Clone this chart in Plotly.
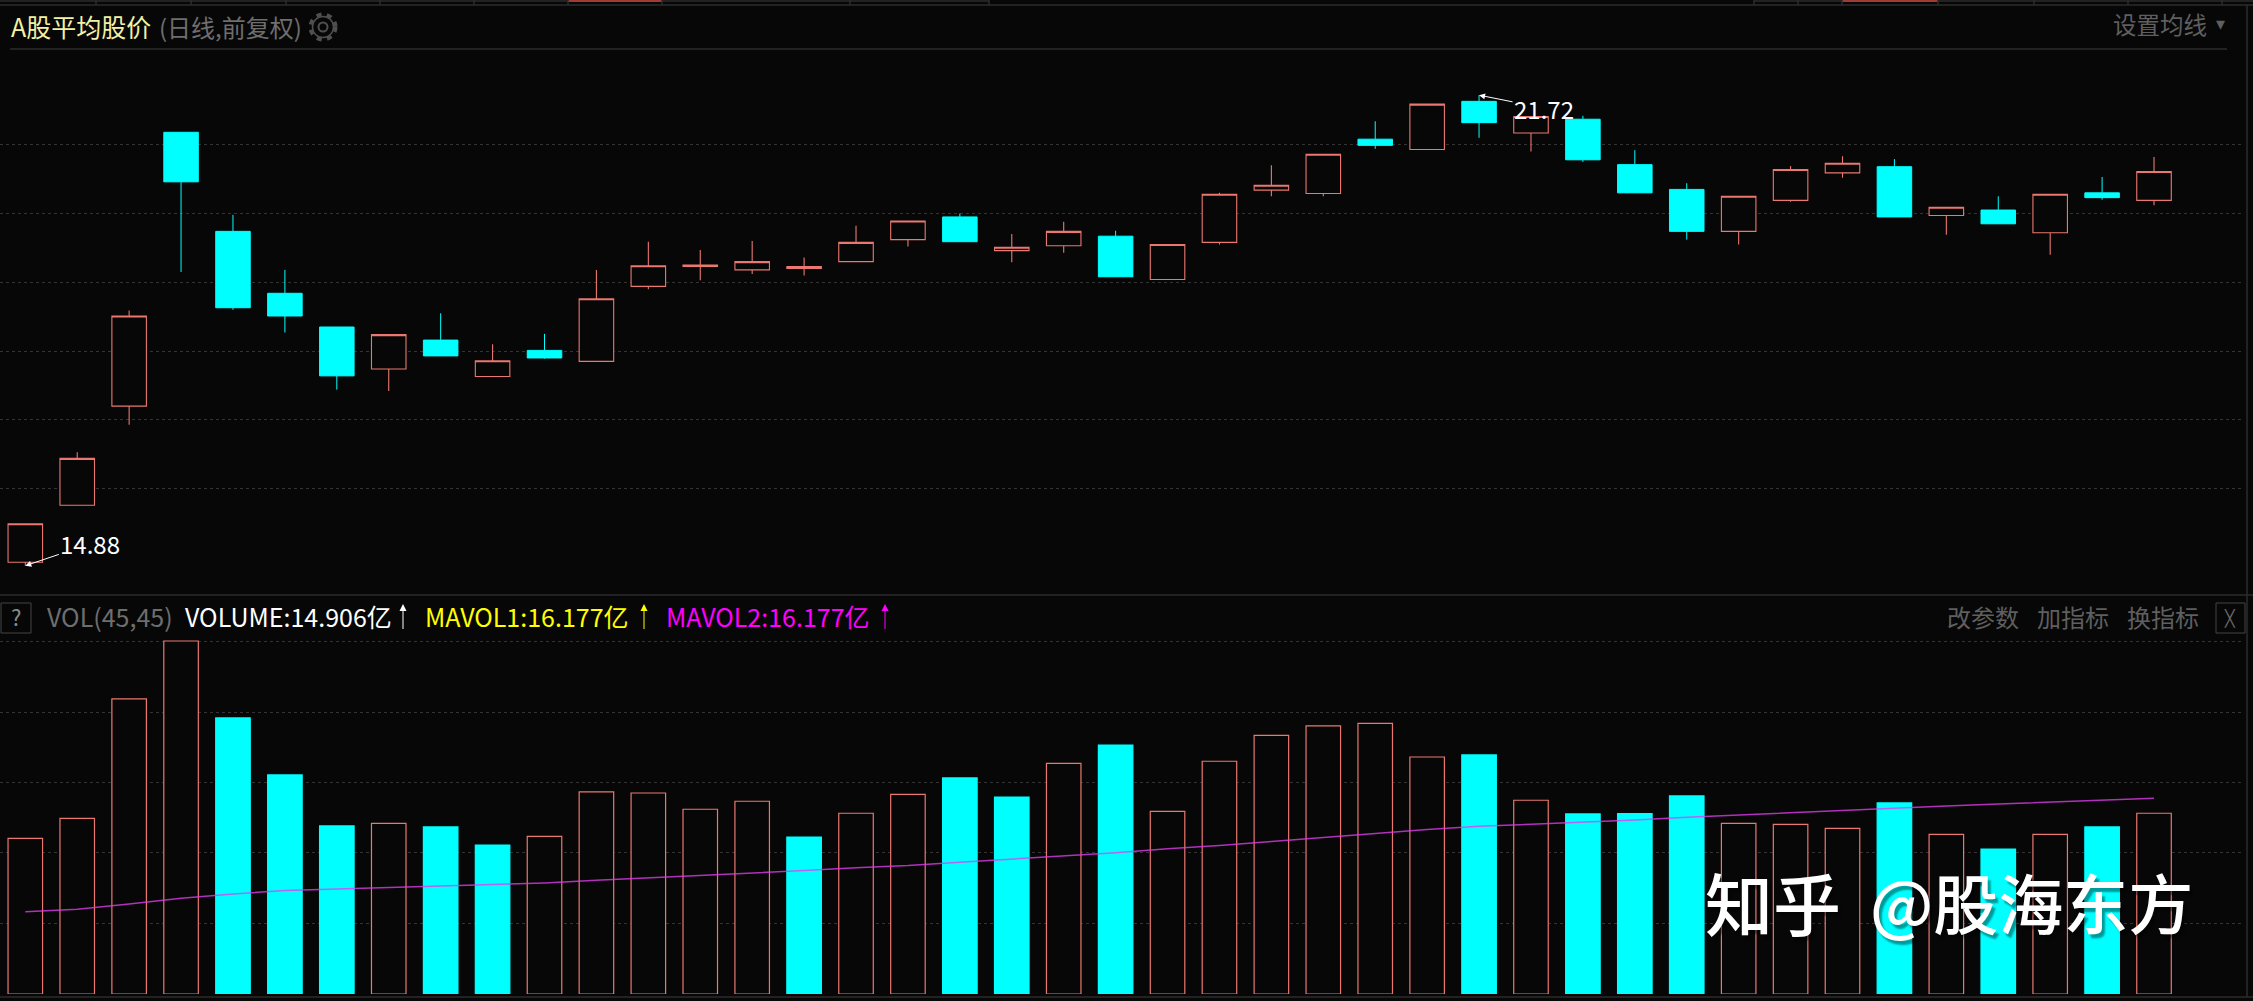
import plotly.graph_objects as go

W, H = 2253, 1001
BG = "#070707"
RED = "#ea7870"
CYAN = "#00ffff"

days = list(range(42))
opens = [14.93,15.76,17.20,21.18,19.74,18.84,18.35,17.74,18.16,17.63,18.01,17.85,18.94,19.23,19.18,19.20,19.30,19.62,19.95,19.46,19.53,19.67,19.04,19.58,20.34,20.29,21.08,20.93,21.63,21.17,21.37,20.71,20.35,19.74,20.19,20.59,20.68,19.97,20.05,19.72,20.30,20.19]
highs = [15.49,16.53,18.59,21.18,19.98,19.18,18.35,18.24,18.55,18.10,18.25,19.18,19.59,19.47,19.60,19.36,19.82,19.89,20.00,19.70,19.88,19.75,19.55,20.30,20.70,20.86,21.34,21.59,21.72,21.41,21.42,20.92,20.44,20.25,20.69,20.83,20.79,20.09,20.25,20.28,20.53,20.82]
lows = [14.88,15.76,16.93,19.15,18.60,18.27,17.44,17.42,17.93,17.63,17.89,17.85,18.90,19.03,19.12,19.10,19.30,19.52,19.59,19.29,19.43,19.08,19.04,19.55,20.25,20.25,20.94,20.93,21.10,20.90,20.75,20.30,19.62,19.55,20.17,20.52,19.95,19.69,19.85,19.40,20.20,20.12]
closes = [15.49,16.44,18.51,20.46,18.63,18.51,17.64,18.24,17.93,17.86,17.90,18.76,19.24,19.25,19.30,19.23,19.58,19.89,19.59,19.51,19.74,19.08,19.55,20.28,20.41,20.86,20.99,21.59,21.32,21.41,20.78,20.30,19.74,20.25,20.64,20.73,19.95,20.09,19.85,20.28,20.23,20.61]

volumes = [12.84,14.49,24.34,29.12,22.77,18.07,13.86,14.08,13.78,12.29,13.01,16.67,16.58,15.24,15.90,12.95,14.91,16.47,17.82,16.25,19.03,20.54,15.07,19.20,21.34,22.11,22.33,19.55,19.72,15.98,14.85,14.88,16.34,14.08,14.00,13.67,15.76,13.17,11.96,13.17,13.78,14.91]
volume_falling = [4,5,6,8,9,15,18,19,21,28,30,31,32,36,38,40]
mavol = [6.79,6.99,7.43,7.89,8.25,8.53,8.66,8.80,8.94,9.02,9.16,9.38,9.57,9.74,9.96,10.18,10.42,10.59,10.86,11.11,11.39,11.66,11.99,12.24,12.57,12.93,13.23,13.56,13.83,14.00,14.16,14.36,14.58,14.77,14.96,15.15,15.37,15.51,15.68,15.84,16.01,16.14]

price_grid = [16, 17, 18, 19, 20, 21]
volume_grid = [5.85, 11.65, 17.45, 23.2, 29.1]

PX_PER_DAY = 51.92
FIRST_X = 25.3
GRID_RIGHT = 2242
x_range = [-FIRST_X / PX_PER_DAY, (GRID_RIGHT - FIRST_X) / PX_PER_DAY]

def fx(p):
    return p / W

def fy(p):
    return 1 - p / H

fig = go.Figure()
fig.add_trace(go.Candlestick(
    x=days, open=opens, high=highs, low=lows, close=closes,
    increasing=dict(line=dict(color=RED, width=1.1), fillcolor=BG),
    decreasing=dict(line=dict(color=CYAN, width=1), fillcolor=CYAN),
    whiskerwidth=0, hoverinfo="skip", xaxis="x", yaxis="y", showlegend=False,
))
fig.add_trace(go.Bar(
    x=days, y=volumes, width=0.665,
    marker=dict(
        color=[CYAN if d in volume_falling else BG for d in days],
        line=dict(color=[CYAN if d in volume_falling else RED for d in days], width=1.2),
    ),
    hoverinfo="skip", xaxis="x2", yaxis="y2", showlegend=False,
))
fig.add_trace(go.Scatter(
    x=days, y=mavol, mode="lines",
    line=dict(color="rgba(225,60,240,0.78)", width=1.5),
    hoverinfo="skip", xaxis="x2", yaxis="y2", showlegend=False,
))

CJK = "Noto Sans CJK SC"
annotations = []

def label(text, x, y, color, size=24, anchor="left", family=CJK, **font_extra):
    annotations.append(dict(
        text=text, x=fx(x), y=fy(y), xref="paper", yref="paper",
        xanchor=anchor, yanchor="middle", showarrow=False,
        font=dict(family=family, size=size, color=color, **font_extra),
    ))

def thin_arrow(x, color):
    annotations.append(dict(
        text=" ", x=fx(x), y=fy(604), xref="paper", yref="paper", ax=0, ay=27,
        showarrow=True, arrowhead=2, arrowsize=1.4, arrowwidth=1, arrowcolor=color, standoff=0,
        font=dict(size=1),
    ))

label("A股平均股价", 9, 26, "#f4f0a4", size=25)
label("(日线,前复权)", 157, 26, "#6e6e6e", size=24)
label("设置均线", 2111, 24, "#5f5f5f", size=23.5)
label("▾", 2220, 24, "#5f5f5f", size=18, anchor="center", family="DejaVu Sans")

label("?", 16, 616, "#8a8a8a", size=22, anchor="center")
label("VOL(45,45)", 45, 616, "#6e6e6e", size=25)
label("VOLUME:14.906亿", 183, 616, "#ffffff", size=25)
thin_arrow(403, "#ffffff")
label("MAVOL1:16.177亿", 423, 616, "#ffff00", size=25)
thin_arrow(644, "#ffff00")
label("MAVOL2:16.177亿", 664, 616, "#ff00ff", size=25)
thin_arrow(885, "#ff00ff")
label("改参数", 1945, 616, "#5f5f5f")
label("加指标", 2035, 616, "#5f5f5f")
label("换指标", 2125, 616, "#5f5f5f")
label("╳", 2230, 618, "#6a6a6a", size=16, anchor="center", family="DejaVu Sans")

for text, xv, yv, ax, ay in [("14.88", 0, 14.88, 65, -22), ("21.72", 28, 21.72, 65, 13)]:
    annotations.append(dict(
        text=text, x=xv, y=yv, xref="x", yref="y", ax=ax, ay=ay, axref="pixel", ayref="pixel",
        showarrow=True, arrowhead=2, arrowsize=1.2, arrowwidth=1, arrowcolor="#ffffff", standoff=0,
        font=dict(family=CJK, size=24, color="#ffffff"),
    ))

MARK_SHADOW = "3px 4px 2px rgba(0,0,0,0.4)"
label("知乎", 1703, 901, "#ffffff", size=68, weight=500, shadow=MARK_SHADOW)
label("@股海东方", 2195, 901, "#ffffff", size=65, anchor="right", weight=500, shadow=MARK_SHADOW)

def hline(y, x0, x1, color="#2c2c2c", width=1.5):
    return dict(type="line", xref="paper", yref="paper", x0=fx(x0), x1=fx(x1), y0=fy(y), y1=fy(y),
                line=dict(color=color, width=width), layer="below")

def vline(x, y0, y1, color="#2c2c2c", width=1.5):
    return dict(type="line", xref="paper", yref="paper", x0=fx(x), x1=fx(x), y0=fy(y0), y1=fy(y1),
                line=dict(color=color, width=width), layer="below")

def box(x0, y0, x1, y1, color="#444444"):
    return dict(type="rect", xref="paper", yref="paper", x0=fx(x0), x1=fx(x1), y0=fy(y0), y1=fy(y1),
                line=dict(color=color, width=1), fillcolor="rgba(0,0,0,0)", layer="below")

def ring(cx, cy, r, width, dash="solid", color="#4f4f4f"):
    return dict(type="circle", xref="paper", yref="paper", x0=fx(cx - r), x1=fx(cx + r), y0=fy(cy + r), y1=fy(cy - r),
                line=dict(color=color, width=width, dash=dash), fillcolor="rgba(0,0,0,0)", layer="below")

shapes = [
    hline(5, 0, W), hline(49, 10, 2227), hline(595, 0, W), hline(997, 0, W),
    vline(2247, 5, 997),
    box(1, 603, 31, 633), box(2216, 603, 2245, 633),
    hline(1, 0, 989), hline(1, 1754, W),
    hline(1, 568, 662, color="#a03a34", width=2), hline(1, 1842, 1938, color="#a03a34", width=2),
    ring(323, 27, 12.5, 4, dash="5px,5.4px"), ring(323, 27, 10.5, 1.5), ring(323, 27, 4.5, 2),
]
for tab in [96, 191, 286, 380, 474, 568, 662, 850, 989, 1754, 1798, 1842, 1938, 2034, 2128, 2222]:
    shapes.append(vline(tab, 0, 5))

axis_common = dict(showticklabels=False, zeroline=False, showline=False, ticks="")
fig.update_layout(
    width=W, height=H, margin=dict(l=0, r=0, t=0, b=0),
    paper_bgcolor=BG, plot_bgcolor=BG, showlegend=False, boxgap=0.05,
    xaxis=dict(domain=[0, GRID_RIGHT / W], range=x_range, showgrid=False, rangeslider=dict(visible=False),
               anchor="y", **axis_common),
    xaxis2=dict(domain=[0, GRID_RIGHT / W], range=x_range, showgrid=False, anchor="y2", **axis_common),
    yaxis=dict(domain=[fy(595), fy(50)], range=[14.455, 22.376], tickvals=price_grid,
               showgrid=True, gridcolor="#333333", griddash="dot", gridwidth=1, anchor="x", **axis_common),
    yaxis2=dict(domain=[fy(994), fy(600)], range=[0, 32.5], tickvals=volume_grid,
                showgrid=True, gridcolor="#333333", griddash="dot", gridwidth=1, anchor="x2", **axis_common),
    annotations=annotations, shapes=shapes,
)

fig.write_html("out.html", config=dict(displayModeBar=False),
               post_script="document.body.style.margin='0';document.body.style.background='#070707';document.body.style.overflow='hidden';")
